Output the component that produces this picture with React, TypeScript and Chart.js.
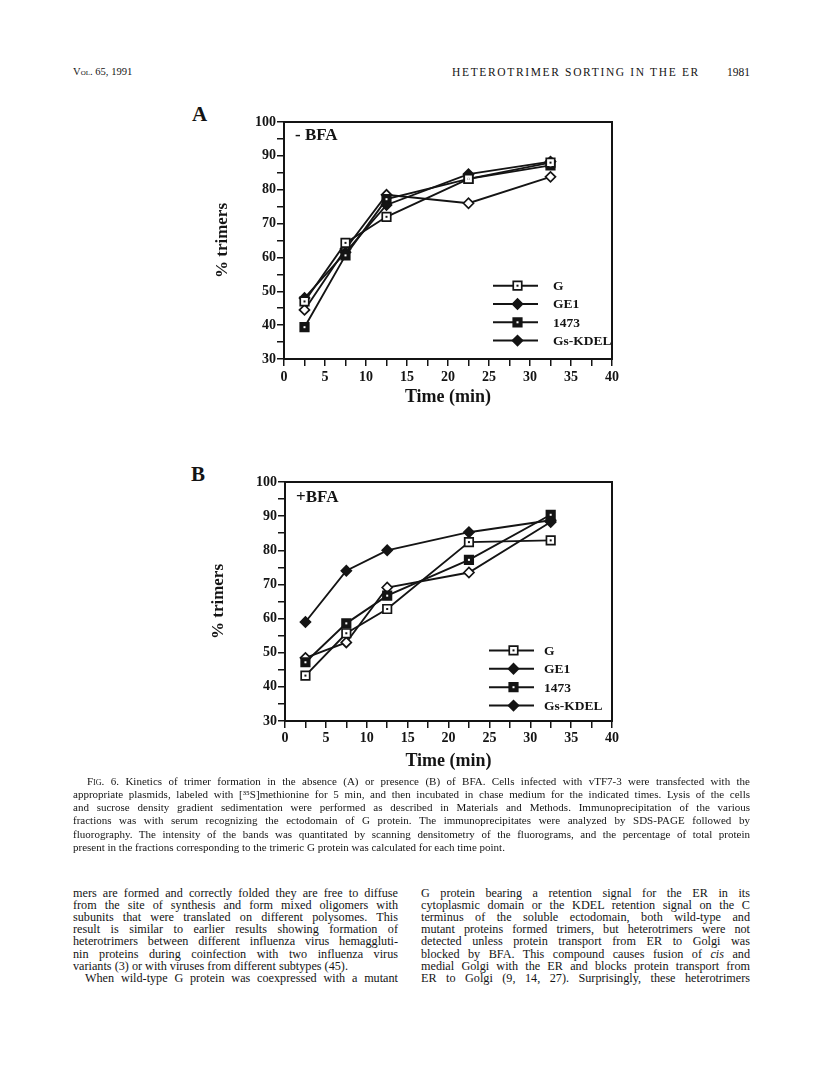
import React, { useEffect, useLayoutEffect, useRef } from "react";
import { Chart, registerables } from "chart.js";
import { drawPoint } from "chart.js/helpers";

Chart.register(...registerables);

// ---------- data ----------
const timePoints = [2.5, 7.5, 12.5, 22.5, 32.5];
const seriesNames = ["G", "GE1", "1473", "Gs-KDEL"];
const xRange = [0, 40];
const yRange = [30, 100];

// Panel A: - BFA
const gMinusBFA = [47.0, 64.3, 72.0, 83.2, 88.0];
const ge1MinusBFA = [48.0, 61.5, 75.5, 84.6, 88.3];
const m1473MinusBFA = [39.4, 60.6, 77.2, 83.2, 87.2];
const kdelMinusBFA = [44.5, 62.5, 78.5, 76.0, 83.8];

// Panel B: + BFA
const gPlusBFA = [43.3, 55.7, 62.8, 82.4, 82.9];
const ge1PlusBFA = [59.0, 74.0, 80.0, 85.3, 88.8];
const m1473PlusBFA = [47.2, 58.6, 66.7, 77.2, 90.4];
const kdelPlusBFA = [48.5, 53.0, 69.1, 73.5, 88.3];

const INK = "#141414";
const FONT = '"Liberation Serif", "Times New Roman", serif';

const seriesStyles = [
  { pointStyle: "rect", radius: 6, fill: "#ffffff", innerDot: INK, legendFill: "#ffffff" },
  { pointStyle: "rectRot", radius: 5, fill: INK, innerDot: null, legendFill: INK },
  { pointStyle: "rect", radius: 6, fill: INK, innerDot: "#ffffff", legendFill: INK },
  { pointStyle: "rectRot", radius: 5, fill: "#ffffff", innerDot: null, legendFill: INK },
];

function makeDatasets(values: number[][]) {
  return seriesNames.map((name, i) => {
    const st = seriesStyles[i];
    return {
      label: name,
      data: timePoints.map((t, j) => ({ x: t, y: values[i][j] })),
      showLine: true,
      borderColor: INK,
      borderWidth: 1.9,
      tension: 0,
      fill: false,
      pointStyle: st.pointStyle,
      pointRadius: st.radius,
      pointBackgroundColor: st.fill,
      pointBorderColor: INK,
      pointBorderWidth: 1.7,
      innerDot: st.innerDot,
      legendFill: st.legendFill,
    } as any;
  });
}

// ---------- plugins ----------
const boxPlugin = {
  id: "boxFrame",
  afterDraw(chart: any) {
    const { ctx, chartArea } = chart;
    ctx.save();
    ctx.strokeStyle = INK;
    ctx.lineWidth = 2;
    ctx.strokeRect(chartArea.left, chartArea.top, chartArea.right - chartArea.left, chartArea.bottom - chartArea.top);
    ctx.restore();
  },
};

const innerDotPlugin = {
  id: "innerDots",
  afterDatasetsDraw(chart: any) {
    const { ctx } = chart;
    chart.data.datasets.forEach((ds: any, i: number) => {
      if (!ds.innerDot) return;
      const meta = chart.getDatasetMeta(i);
      ctx.save();
      ctx.fillStyle = ds.innerDot;
      meta.data.forEach((el: any) => {
        ctx.fillRect(el.x - 1, el.y - 1, 2, 2);
      });
      ctx.restore();
    });
  },
};

const manualLegendPlugin = {
  id: "manualLegend",
  afterDraw(chart: any, _args: any, opts: any) {
    const { ctx, chartArea } = chart;
    ctx.save();
    chart.data.datasets.forEach((ds: any, i: number) => {
      const y = chartArea.top + opts.y0 + i * opts.dy;
      const x0 = chartArea.left + opts.x0;
      const x1 = chartArea.left + opts.x1;
      ctx.strokeStyle = INK;
      ctx.lineWidth = 2;
      ctx.beginPath();
      ctx.moveTo(x0, y);
      ctx.lineTo(x1, y);
      ctx.stroke();
      ctx.fillStyle = ds.legendFill;
      ctx.strokeStyle = INK;
      ctx.lineWidth = 1.7;
      drawPoint(ctx, { pointStyle: ds.pointStyle, radius: ds.pointRadius, rotation: 0, borderWidth: 1.7 } as any, (x0 + x1) / 2 + 2, y);
      if (ds.innerDot) {
        ctx.fillStyle = ds.innerDot;
        ctx.fillRect((x0 + x1) / 2 + 1, y - 1, 2, 2);
      }
      ctx.fillStyle = INK;
      ctx.font = `bold 13.5px ${FONT}`;
      ctx.textAlign = "left";
      ctx.textBaseline = "middle";
      ctx.fillText(ds.label, chartArea.left + opts.tx, y + 1);
    });
    ctx.restore();
  },
};

type PanelProps = {
  left: number;
  top: number;
  width: number;
  height: number;
  padTop: number;
  padRight: number;
  yAxisW: number;
  xAxisH: number;
  yTitlePad: number;
  xTitlePad: number;
  xTickPad: number;
  values: number[][];
  legend: { x0: number; x1: number; tx: number; y0: number; dy: number };
};

function Panel(p: PanelProps) {
  const ref = useRef<HTMLCanvasElement | null>(null);
  useEffect(() => {
    if (!ref.current) return;
    const tickFont = { family: FONT, size: 14, weight: "bold" as const };
    const chart = new Chart(ref.current, {
      type: "scatter",
      data: { datasets: makeDatasets(p.values) },
      options: {
        animation: false,
        responsive: false,
        devicePixelRatio: 1,
        layout: { padding: { left: 0, top: p.padTop, right: p.padRight, bottom: 0 } },
        plugins: {
          legend: { display: false },
          tooltip: { enabled: false },
          manualLegend: p.legend,
        } as any,
        scales: {
          x: {
            type: "linear",
            min: xRange[0],
            max: xRange[1],
            afterFit: (s: any) => {
              s.height = p.xAxisH;
            },
            border: { color: INK, width: 2 },
            grid: { drawOnChartArea: false, drawTicks: true, tickLength: 7, color: INK, lineWidth: 1.5 },
            ticks: {
              stepSize: 2.5,
              autoSkip: false,
              maxRotation: 0,
              padding: p.xTickPad,
              color: INK,
              font: tickFont,
              callback: (v: any) => (Number(v) % 5 === 0 ? String(v) : ""),
            },
            title: {
              display: true,
              text: "Time (min)",
              color: INK,
              font: { family: FONT, size: 18, weight: "bold" },
              padding: { top: 0, bottom: p.xTitlePad },
            },
          },
          y: {
            type: "linear",
            min: yRange[0],
            max: yRange[1],
            afterFit: (s: any) => {
              s.width = p.yAxisW;
            },
            border: { color: INK, width: 2 },
            grid: { drawOnChartArea: false, drawTicks: true, tickLength: 7, color: INK, lineWidth: 1.5 },
            ticks: {
              stepSize: 5,
              autoSkip: false,
              padding: 1,
              color: INK,
              font: tickFont,
              callback: (v: any) => (Number(v) % 10 === 0 ? String(v) : ""),
            },
            title: {
              display: true,
              text: "% trimers",
              color: INK,
              font: { family: FONT, size: 17, weight: "bold" },
              padding: { top: p.yTitlePad, bottom: 0 },
            },
          },
        },
      },
      plugins: [boxPlugin, innerDotPlugin, manualLegendPlugin],
    } as any);
    return () => chart.destroy();
  }, []);
  return (
    <canvas
      ref={ref}
      width={p.width}
      height={p.height}
      style={{ position: "absolute", left: p.left, top: p.top, width: p.width, height: p.height }}
    />
  );
}

// ---------- page text ----------
const captionLines = [
  "Kinetics of trimer formation in the absence (A) or presence (B) of BFA. Cells infected with vTF7-3 were transfected with the",
  "appropriate plasmids, labeled with [³⁵S]methionine for 5 min, and then incubated in chase medium for the indicated times. Lysis of the cells",
  "and sucrose density gradient sedimentation were performed as described in Materials and Methods. Immunoprecipitation of the various",
  "fractions was with serum recognizing the ectodomain of G protein. The immunoprecipitates were analyzed by SDS-PAGE followed by",
  "fluorography. The intensity of the bands was quantitated by scanning densitometry of the fluorograms, and the percentage of total protein",
  "present in the fractions corresponding to the trimeric G protein was calculated for each time point.",
];

const leftColumn = [
  "mers are formed and correctly folded they are free to diffuse",
  "from the site of synthesis and form mixed oligomers with",
  "subunits that were translated on different polysomes. This",
  "result is similar to earlier results showing formation of",
  "heterotrimers between different influenza virus hemaggluti-",
  "nin proteins during coinfection with two influenza virus",
  "variants (3) or with viruses from different subtypes (45).",
  "When wild-type G protein was coexpressed with a mutant",
];

const rightColumn = [
  "G protein bearing a retention signal for the ER in its",
  "cytoplasmic domain or the KDEL retention signal on the C",
  "terminus of the soluble ectodomain, both wild-type and",
  "mutant proteins formed trimers, but heterotrimers were not",
  "detected unless protein transport from ER to Golgi was",
  "blocked by BFA. This compound causes fusion of |cis| and",
  "medial Golgi with the ER and blocks protein transport from",
  "ER to Golgi (9, 14, 27). Surprisingly, these heterotrimers",
];

// a single typeset line; when justify is set, word spacing is adjusted so the
// line exactly spans its measure
function Line(props: {
  left: number;
  cy: number;
  width: number;
  size: number;
  lh: number;
  justify: boolean;
  text: string;
  prefix?: React.ReactNode;
}) {
  const spanRef = useRef<HTMLSpanElement | null>(null);
  useLayoutEffect(() => {
    const el = spanRef.current;
    if (!el) return;
    const fit = () => {
      el.style.wordSpacing = "0px";
      el.style.transform = "none";
      const natural = el.getBoundingClientRect().width;
      if (!props.justify) {
        if (natural > props.width) {
          el.style.transform = `scaleX(${props.width / natural})`;
        }
        return;
      }
      const full = (props.prefix ? "Fig. 6. " : "") + props.text;
      const nSpaces = (full.match(/ /g) || []).length;
      if (nSpaces === 0) return;
      let ws = (props.width - natural) / nSpaces;
      if (ws < -1.2) {
        ws = -1.2;
        el.style.wordSpacing = ws + "px";
        const w2 = el.getBoundingClientRect().width;
        el.style.transform = `scaleX(${props.width / w2})`;
      } else {
        el.style.wordSpacing = ws + "px";
      }
    };
    fit();
    if ((document as any).fonts && (document as any).fonts.ready) {
      (document as any).fonts.ready.then(fit);
    }
  }, []);
  const parts = props.text.split("|");
  return (
    <div
      style={{
        position: "absolute",
        left: props.left,
        top: props.cy - props.lh / 2,
        width: props.width + 20,
        height: props.lh,
        lineHeight: props.lh + "px",
        fontSize: props.size,
        whiteSpace: "nowrap",
      }}
    >
      <span ref={spanRef} style={{ display: "inline-block", transformOrigin: "0 50%", whiteSpace: "pre" }}>
        {props.prefix}
        {parts.map((t, i) => (i % 2 === 1 ? <i key={i}>{t}</i> : <span key={i}>{t}</span>))}
      </span>
    </div>
  );
}

export default function App() {
  const capY0 = 781;
  const capDy = 13.3;
  const bodyY0 = 893;
  const bodyDy = 12.2;
  return (
    <div
      style={{
        position: "absolute",
        left: 0,
        top: 0,
        width: 816,
        height: 1072,
        background: "#ffffff",
        color: INK,
        fontFamily: FONT,
        overflow: "hidden",
      }}
    >
      {/* running head */}
      <div style={{ position: "absolute", left: 73, top: 65, fontSize: 10.6, lineHeight: "14px", fontVariant: "small-caps" }}>
        Vol. 65, 1991
      </div>
      <div style={{ position: "absolute", left: 452, top: 65, fontSize: 11.5, lineHeight: "14px", letterSpacing: "1.65px" }}>
        HETEROTRIMER SORTING IN THE ER
      </div>
      <div style={{ position: "absolute", left: 727, top: 65, fontSize: 11.5, lineHeight: "14px" }}>1981</div>

      {/* panel letters */}
      <div style={{ position: "absolute", left: 192, top: 102, fontSize: 21, lineHeight: "24px", fontWeight: "bold" }}>A</div>
      <div style={{ position: "absolute", left: 191, top: 462, fontSize: 21, lineHeight: "24px", fontWeight: "bold" }}>B</div>

      <Panel
        left={190}
        top={100}
        width={440}
        height={320}
        padTop={22}
        padRight={18}
        yAxisW={94}
        xAxisH={61}
        yTitlePad={22}
        xTitlePad={12}
        xTickPad={3}
        values={[gMinusBFA, ge1MinusBFA, m1473MinusBFA, kdelMinusBFA]}
        legend={{ x0: 209, x1: 254, tx: 269, y0: 163.7, dy: 18.3 }}
      />
      <Panel
        left={190}
        top={465}
        width={440}
        height={320}
        padTop={17}
        padRight={18}
        yAxisW={95}
        xAxisH={64}
        yTitlePad={18}
        xTitlePad={12.5}
        xTickPad={2}
        values={[gPlusBFA, ge1PlusBFA, m1473PlusBFA, kdelPlusBFA]}
        legend={{ x0: 204, x1: 249, tx: 259, y0: 168.4, dy: 18.4 }}
      />

      {/* in-plot condition labels */}
      <div style={{ position: "absolute", left: 295, top: 125, fontSize: 17, lineHeight: "20px", fontWeight: "bold" }}>- BFA</div>
      <div style={{ position: "absolute", left: 296, top: 487, fontSize: 17, lineHeight: "20px", fontWeight: "bold" }}>+BFA</div>

      {/* caption */}
      {captionLines.map((t, i) => (
        <Line
          key={"c" + i}
          left={i === 0 ? 87 : 73}
          width={i === 0 ? 663 : 677}
          cy={capY0 + i * capDy}
          size={11}
          lh={13}
          justify={i < captionLines.length - 1}
          text={t}
          prefix={
            i === 0 ? (
              <>
                <span style={{ fontVariant: "small-caps" }}>Fig.</span> 6.{" "}
              </>
            ) : undefined
          }
        />
      ))}

      {/* body columns */}
      {leftColumn.map((t, i) => (
        <Line
          key={"l" + i}
          left={i === 7 ? 85 : 73}
          width={i === 7 ? 313 : 325}
          cy={bodyY0 + i * bodyDy}
          size={12.2}
          lh={13}
          justify={i !== 6}
          text={t}
        />
      ))}
      {rightColumn.map((t, i) => (
        <Line key={"r" + i} left={421} width={329} cy={bodyY0 + i * bodyDy} size={12.2} lh={13} justify={true} text={t} />
      ))}
    </div>
  );
}
